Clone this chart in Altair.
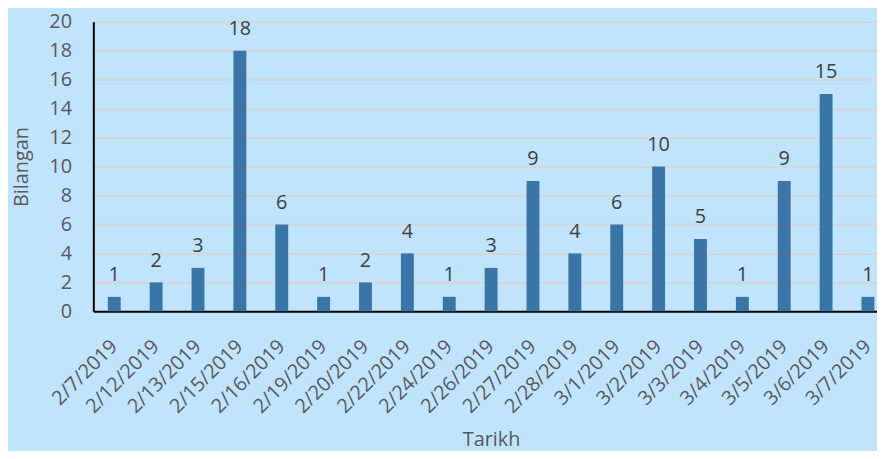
import altair as alt
import pandas as pd

dates = ["2/7/2019", "2/12/2019", "2/13/2019", "2/15/2019", "2/16/2019", "2/19/2019",
         "2/20/2019", "2/22/2019", "2/24/2019", "2/26/2019", "2/27/2019", "2/28/2019",
         "3/1/2019", "3/2/2019", "3/3/2019", "3/4/2019", "3/5/2019", "3/6/2019", "3/7/2019"]
counts = [1, 2, 3, 18, 6, 1, 2, 4, 1, 3, 9, 4, 6, 10, 5, 1, 9, 15, 1]
y_ticks = [0, 2, 4, 6, 8, 10, 12, 14, 16, 18, 20]

df = pd.DataFrame({"Tarikh": dates, "Bilangan": counts})

FONT = "Open Sans"
TXT = "#595959"

x = alt.X("Tarikh:N", sort=dates, title="Tarikh",
          scale=alt.Scale(range=[0, 802], paddingInner=0, paddingOuter=0),
          axis=alt.Axis(labelAngle=-45, labelAlign="right", labelBaseline="middle",
                        labelPadding=32, ticks=False, domainColor="black", domainWidth=2,
                        labelFontSize=20, labelColor=TXT, titleFontSize=20, titleColor=TXT,
                        titleFontWeight="normal", titlePadding=13, labelFont=FONT, titleFont=FONT,
                        labelOverlap=False))
y = alt.Y("Bilangan:Q", title="Bilangan",
          scale=alt.Scale(domain=[0, 20], nice=False),
          axis=alt.Axis(values=y_ticks, ticks=False, domainColor="black",
                        domainWidth=2, gridColor="#d6d6d6", gridWidth=2, labelPadding=22,
                        labelFontSize=20, labelColor=TXT, titleFontSize=20, titleColor=TXT,
                        titleFontWeight="normal", titlePadding=17, labelFont=FONT, titleFont=FONT,
                        labelOverlap=False, labelBound=False))

base = alt.Chart(df).encode(x=x, y=y)
bars = base.mark_bar(size=13, color="#3a75a7")
labels = base.mark_text(dy=-16, baseline="alphabetic", fontSize=20, font=FONT,
                        color="#404040").encode(text="Bilangan:Q")

chart = alt.layer(bars, labels).properties(
    width=790, height=292, background="#c1e4fd",
    autosize=alt.AutoSizeParams(type="none"),
    padding={"left": 86, "top": 12, "right": 0, "bottom": 139},
).configure_view(stroke=None)

chart.save("out.html", embed_options={"renderer": "svg", "actions": False})
